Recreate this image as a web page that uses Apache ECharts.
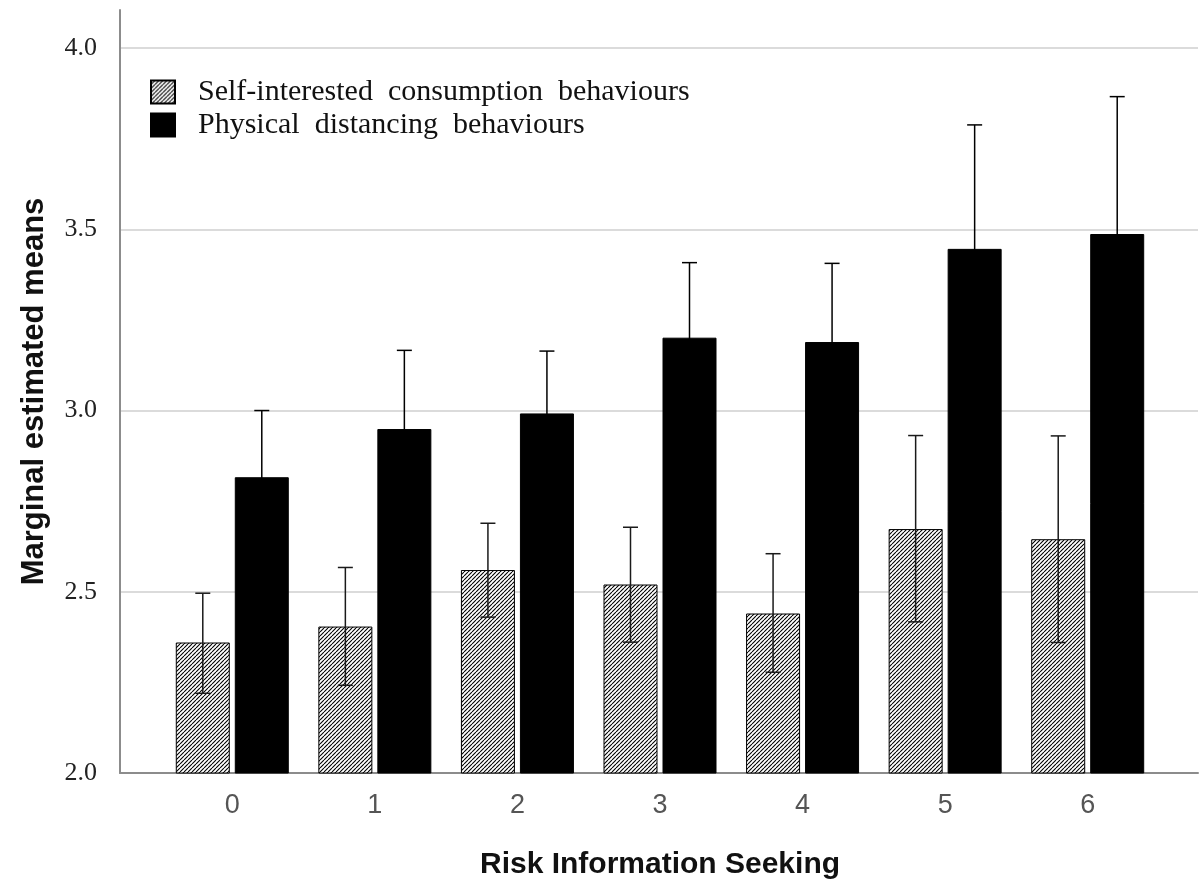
<!DOCTYPE html>
<html>
<head>
<meta charset="utf-8">
<title>Marginal estimated means by risk information seeking</title>
<script src="https://cdn.jsdelivr.net/npm/echarts@6/dist/echarts.min.js"></script>
<style>
    html, body { margin: 0; padding: 0; background: #fff; }
    #chart { width: 1203px; height: 880px; }
</style>
</head>
<body>
<div id="chart"></div>
<script>
    // 数据
    const categories = ['0', '1', '2', '3', '4', '5', '6']
    const seriesNames = ['Self-interested consumption behaviours', 'Physical distancing behaviours']

    const selfMean = [2.36, 2.404, 2.56, 2.52, 2.44, 2.673, 2.645]
    const selfLow  = [2.22, 2.242, 2.43, 2.361, 2.278, 2.417, 2.36]
    const selfHigh = [2.496, 2.567, 2.689, 2.678, 2.605, 2.931, 2.93]

    const physMean = [2.816, 2.949, 2.992, 3.201, 3.189, 3.446, 3.487]
    const physLow  = [2.632, 2.732, 2.82, 2.994, 2.972, 3.104, 3.108]
    const physHigh = [3.0, 3.166, 3.164, 3.408, 3.406, 3.788, 3.866]

    const yTicks = ['2.0', '2.5', '3.0', '3.5', '4.0']

    // 样式
    const BAR_W = 54
    const BAR_GAP = 5
    const serif = 'Liberation Serif'
    const sans = 'Liberation Sans'

    // 斜线填充
    function hatch () {
        const s = 4
        const c = document.createElement('canvas')
        c.width = s; c.height = s
        const ctx = c.getContext('2d')
        ctx.fillStyle = '#fff'
        ctx.fillRect(0, 0, s, s)
        ctx.strokeStyle = '#000'
        ctx.lineWidth = 1.1
        ctx.beginPath()
        ;[-s, 0, s].forEach(k => {
            ctx.moveTo(k, s)
            ctx.lineTo(k + s, 0)
        })
        ctx.stroke()
        return c
    }

    const chart = echarts.init(document.getElementById('chart'), null, { renderer: 'canvas' })

    let gridBox = { top: 10, bottom: 107, outerBoundsMode: 'none' }
    let yMin = 2, yMax = 4.105

    function errorBars (low, high, side, color) {
        return {
            type: 'custom',
            xAxisIndex: 1,
            yAxisIndex: 1,
            z: 5,
            silent: true,
            data: categories.map((c, i) => [i, low[i], high[i]]),
            encode: { x: 0, y: [1, 2] },
            renderItem (params, api) {
                const off = side * (BAR_W + BAR_GAP) / 2
                const top = api.coord([api.value(0), api.value(2)])
                const bot = api.coord([api.value(0), api.value(1)])
                const x = top[0] + off
                const cap = 7.5
                const style = { stroke: color, lineWidth: 1.5 }
                return {
                    type: 'group',
                    children: [
                        { type: 'line', shape: { x1: x, y1: top[1], x2: x, y2: bot[1] }, style },
                        { type: 'line', shape: { x1: x - cap, y1: top[1], x2: x + cap, y2: top[1] }, style },
                        { type: 'line', shape: { x1: x - cap, y1: bot[1], x2: x + cap, y2: bot[1] }, style }
                    ]
                }
            }
        }
    }

    chart.setOption({
        animation: false,
        backgroundColor: '#fff',
        legend: {
            orient: 'vertical',
            left: 145,
            top: 72,
            itemWidth: 24,
            itemHeight: 23,
            itemGap: 3,
            icon: 'rect',
            selectedMode: false,
            data: seriesNames,
            formatter: name => name.split(' ').join('  '),
            textStyle: { fontFamily: serif, fontSize: 30, lineHeight: 23, color: '#111', padding: [0, 0, 0, 18] }
        },
        grid: [
            Object.assign({ left: 120, right: 5 }, gridBox),
            Object.assign({ left: 161, right: 44 }, gridBox)
        ],
        xAxis: [
            {
                gridIndex: 0, type: 'value', min: 0, max: 1,
                axisLine: { show: true, lineStyle: { color: '#8c8c8c', width: 2 } },
                axisTick: { show: false }, axisLabel: { show: false }, splitLine: { show: false }
            },
            {
                gridIndex: 1, type: 'category', data: categories,
                axisLine: { show: false }, axisTick: { show: false },
                axisLabel: { fontFamily: sans, fontSize: 27, color: '#555', margin: 19 },
                name: 'Risk Information Seeking',
                nameLocation: 'middle',
                nameGap: 77,
                nameTextStyle: { fontFamily: sans, fontSize: 30, fontWeight: 'bold', color: '#111' }
            }
        ],
        yAxis: [
            {
                gridIndex: 0, type: 'value', min: yMin, max: yMax, interval: 0.5,
                axisLine: { show: true, lineStyle: { color: '#8c8c8c', width: 2 } },
                axisTick: { show: false },
                axisLabel: {
                    fontFamily: serif, fontSize: 26, color: '#222', margin: 23,
                    showMaxLabel: false,
                    formatter: v => yTicks.find(t => Math.abs(+t - v) < 1e-6) || ''
                },
                splitLine: { show: true, showMaxLine: false, lineStyle: { color: '#cfcfcf', width: 1.5 } },
                name: 'Marginal estimated means',
                nameLocation: 'middle',
                nameGap: 70,
                nameTextStyle: { fontFamily: sans, fontSize: 31, fontWeight: 'bold', color: '#111' }
            },
            { gridIndex: 1, type: 'value', min: yMin, max: yMax, show: false }
        ],
        series: [
            {
                name: seriesNames[0], type: 'bar', xAxisIndex: 1, yAxisIndex: 1,
                barWidth: BAR_W, barGap: (BAR_GAP / BAR_W * 100) + '%',
                itemStyle: { color: { image: hatch(), repeat: 'repeat' }, borderColor: '#000', borderWidth: 1 },
                data: selfMean
            },
            {
                name: seriesNames[1], type: 'bar', xAxisIndex: 1, yAxisIndex: 1,
                barWidth: BAR_W,
                itemStyle: { color: '#000', borderColor: '#000', borderWidth: 1 },
                data: physMean
            },
            errorBars(selfLow, selfHigh, -1, '#1a1a1a'),
            errorBars(physLow, physHigh, 1, '#000')
        ]
    })
</script>
</body>
</html>
